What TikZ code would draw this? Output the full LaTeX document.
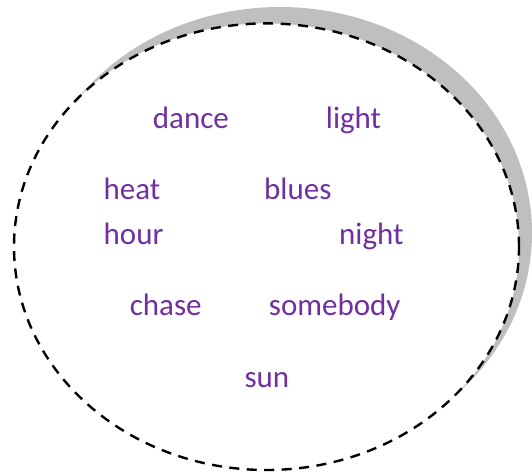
\documentclass[tikz,border=0pt]{standalone}
\usepackage{fontspec}
\setmainfont{Carlito}
\usepackage{xcolor}
\definecolor{meuroxo}{HTML}{7030A0}
\definecolor{meucinza}{RGB}{191, 191, 191}

\begin{document}
\begin{tikzpicture}[
                x=1pt, y=-1pt,
                word/.style={anchor=base west, inner sep=0pt, text=meuroxo, font=\fontsize{31}{37}\selectfont},
                balao/.style={draw=black, line width=2.4pt, dash pattern=on 10pt off 7.5pt, fill=white}
            ]
                \useasboundingbox (0,0) rectangle (532,472);
                
                % Sombra e balão
                \fill[meucinza] (280,233) ellipse [x radius=252pt, y radius=226pt];
                \draw[balao] (266.5,246.7) ellipse [x radius=252.5pt, y radius=223.3pt];
                
                % Palavras
                \node[word] (dance) at (152.7,128) {dance};
                \node[word] (light) at (325.7,128) {light};
                \node[word] (heat) at (103.5,199) {heat};
                \node[word] (blues) at (264,199) {blues};
                \node[word] (hour) at (103.5,244) {hour};
                \node[word] (night) at (339,244) {night};
                \node[word] (chase) at (129.6,315) {chase};
                \node[word] (somebody) at (268.7,315) {somebody};
                \node[word] (sun) at (244.3,387) {sun};
            \end{tikzpicture}
\end{document}
